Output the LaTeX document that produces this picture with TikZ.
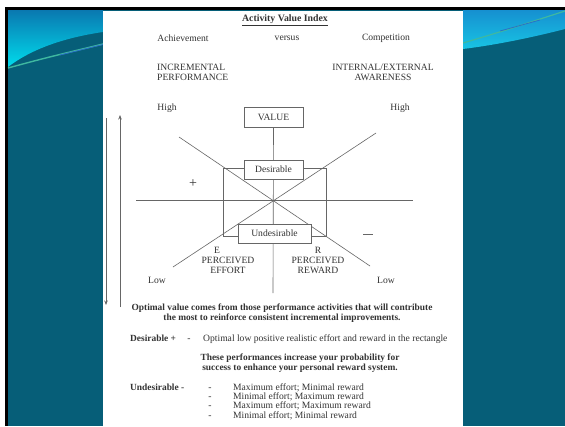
\documentclass[tikz,border=0pt]{standalone}
\usepackage{fontspec}
\setmainfont{Liberation Serif}
\usetikzlibrary{arrows.meta}
\definecolor{slideteal}{HTML}{065E78}
\definecolor{swooshtop}{HTML}{0A78B0}
\definecolor{swooshlow}{HTML}{00DCEC}
\definecolor{swooshrtop}{HTML}{1690D0}
\definecolor{swooshrlow}{HTML}{18C4E4}
\definecolor{streakgreen}{HTML}{3FB8A0}
\definecolor{streakblue}{HTML}{2A70C8}
\definecolor{ink}{HTML}{333333}
\definecolor{rule}{HTML}{666666}
\begin{document}
\begin{tikzpicture}[x=1pt,y=-1pt,
  txt/.style={text=ink, font=\fontsize{9.6}{10}\selectfont, inner sep=0pt},
  btxt/.style={txt, font=\fontsize{9.4}{10}\selectfont\bfseries},
  lbox/.style={draw=rule, line width=0.7pt, fill=white, text=ink,
    font=\fontsize{9.6}{10}\selectfont, inner sep=0pt, minimum height=19pt},
  ln/.style={draw=rule, line width=0.6pt},
  axarrow/.style={draw=rule, line width=0.6pt, -{Stealth[length=4.5pt,width=3.5pt]}}]
\useasboundingbox (0,0) rectangle (565,426);

% slide frame and background
\fill[white] (0,0) rectangle (565,426);
\fill[black] (5,7) rectangle (565,426);
\fill[slideteal] (8,10) rectangle (565,426);

% upper-left swoosh
\shade[top color=swooshtop, bottom color=swooshlow]
  (8,10) -- (103,10) -- (103,32) .. controls (62,38) and (30,50) .. (8,67) -- cycle;
\draw[streakgreen, line width=1.4pt] (8,68) .. controls (45,58) .. (103,44);
\draw[streakblue, line width=0.8pt] (60,55) -- (103,44.5);

% upper-right swoosh
\shade[top color=swooshrtop, bottom color=swooshrlow]
  (463,10) -- (565,10) -- (565,29) .. controls (530,38) and (495,45) .. (463,49) -- cycle;
\draw[streakgreen, line width=1.2pt] (463,43) .. controls (500,32) .. (565,11);
\draw[streakblue, line width=0.8pt] (500,31) -- (540,20);

% page
\fill[white] (103,11) rectangle (462.5,426);

% headings
\node[btxt, font=\fontsize{9.8}{10}\selectfont\bfseries] (title) at (285,20) {\underline{Activity Value Index}};
\node[txt] (ach) at (183,38) {Achievement};
\node[txt] (vs) at (287,38) {versus};
\node[txt] (comp) at (386,38) {Competition};
\node[txt, align=left, anchor=west] (incr) at (157,72) {INCREMENTAL\\PERFORMANCE};
\node[txt, align=center] (aware) at (383,72) {INTERNAL/EXTERNAL\\AWARENESS};
\node[txt] (highl) at (167,108) {High};
\node[txt] (highr) at (400,108) {High};

% axes side arrows
\coordinate (dtop) at (106,118);
\coordinate (dbot) at (106,305);
\coordinate (ubot) at (120,307);
\coordinate (utop) at (120,115);
\draw[axarrow] (dtop) -- (dbot);
\draw[axarrow] (ubot) -- (utop);

% cross lines
\coordinate (hl) at (136,200);
\coordinate (hr) at (413,200);
\coordinate (vbot) at (273,293);
\coordinate (d1a) at (179,137);
\coordinate (d1b) at (370,266);
\coordinate (d2a) at (173,267);
\coordinate (d2b) at (376,133);
\draw[ln] (hl) -- (hr);
\draw[ln] (d1a) -- (d1b);
\draw[ln] (d2a) -- (d2b);
\draw[ln] (223,168) rectangle (326,236);

% boxes
\node[lbox, minimum width=59pt, minimum height=20pt] (value) at (273.5,117) {VALUE};
\draw[ln] (value.south) -- (vbot);
\node[lbox, minimum width=59pt] (des) at (273.5,169.5) {Desirable};
\node[lbox, minimum width=73pt] (undes) at (274.5,233.5) {Undesirable};

% quadrant marks
\node[txt, font=\fontsize{14}{14}\selectfont] (plus) at (193,184) {+};
\draw[ln, line width=1pt] (363,234) -- (373,234);
\node[txt] (ee) at (217,250) {E};
\node[txt, align=center] (effort) at (228,265) {PERCEIVED\\EFFORT};
\node[txt] (rr) at (318,250) {R};
\node[txt, align=center] (reward) at (318,265) {PERCEIVED\\REWARD};
\node[txt] (lowl) at (157,280) {Low};
\node[txt] (lowr) at (386,280) {Low};

% explanatory text
\node[btxt, align=center] (optimal) at (282,313)
  {Optimal value comes from those performance activities that will contribute\\
   the most to reinforce consistent incremental improvements.};
\node[btxt, anchor=base west] (desl) at (130,341.2) {Desirable +};
\node[txt, anchor=base] (desdash) at (189,341.2) {-};
\node[txt, anchor=base west] (destext) at (203,341.2)
  {Optimal low positive realistic effort and reward in the rectangle};
\node[btxt, align=center] (these) at (300,363)
  {These performances increase your probability for\\
   success to enhance your personal reward system.};
\node[btxt, anchor=base west] (undl) at (130,390.2) {Undesirable -};
\foreach \yy/\item in {390.2/Maximum effort; Minimal reward,
                       399.5/Minimal effort; Maximum reward,
                       408.8/Maximum effort; Maximum reward,
                       418.2/Minimal effort; Minimal reward}{
  \node[txt, anchor=base] at (210,\yy) {-};
  \node[txt, anchor=base west] at (233,\yy) {\item};
}
\end{tikzpicture}
\end{document}
